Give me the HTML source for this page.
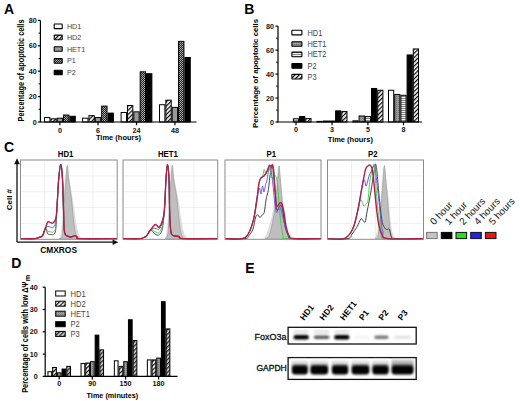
<!DOCTYPE html>
<html><head><meta charset="utf-8"><style>
html,body{margin:0;padding:0;background:#fff;width:520px;height:401px;overflow:hidden}
svg{display:block}
</style></head><body>
<svg width="520" height="401" viewBox="0 0 520 401" font-family="Liberation Sans">
<defs>
<pattern id="hatch" patternUnits="userSpaceOnUse" width="3" height="3" patternTransform="rotate(45)">
  <rect width="3" height="3" fill="#fff"/><rect width="1.2" height="3" fill="#000"/></pattern>
<pattern id="hatchG" patternUnits="userSpaceOnUse" width="3" height="3" patternTransform="rotate(45)">
  <rect width="3" height="3" fill="#ddd"/><rect width="1.4" height="3" fill="#222"/></pattern>
<pattern id="checker" patternUnits="userSpaceOnUse" width="2" height="2">
  <rect width="2" height="2" fill="#1c1c1c"/><rect width="1" height="1" fill="#b8b8b8"/><rect x="1" y="1" width="1" height="1" fill="#a0a0a0"/></pattern>
<pattern id="dotG" patternUnits="userSpaceOnUse" width="2" height="2">
  <rect width="2" height="2" fill="#999"/><rect width="1" height="1" fill="#777"/></pattern>
<pattern id="hstripe" patternUnits="userSpaceOnUse" width="2" height="2">
  <rect width="2" height="2" fill="#eee"/><rect width="2" height="1" fill="#888"/></pattern>
</defs>
<rect width="520" height="401" fill="#fff"/>
<text x="4.1" y="14.2" font-size="14" font-weight="bold" text-anchor="start" fill="#000" >A</text>
<text x="244.2" y="13.7" font-size="14" font-weight="bold" text-anchor="start" fill="#000" >B</text>
<text x="4.0" y="151.9" font-size="14" font-weight="bold" text-anchor="start" fill="#000" >C</text>
<text x="11.3" y="267.6" font-size="14" font-weight="bold" text-anchor="start" fill="#000" >D</text>
<text x="245.2" y="272.9" font-size="14" font-weight="bold" text-anchor="start" fill="#000" >E</text>
<rect x="44.52" y="117.56" width="5.35" height="4.45" fill="#fff" stroke="#000" stroke-width="1" />
<rect x="50.88" y="118.83" width="5.35" height="3.17" fill="url(#hatch)" stroke="#000" stroke-width="1" />
<rect x="57.23" y="118.19" width="5.35" height="3.81" fill="#999" stroke="#000" stroke-width="1" />
<rect x="63.58" y="115.02" width="5.35" height="6.99" fill="url(#checker)" stroke="#000" stroke-width="1" />
<rect x="69.92" y="116.28" width="5.35" height="5.71" fill="#000" stroke="#000" stroke-width="1" />
<rect x="82.62" y="118.19" width="5.35" height="3.81" fill="#fff" stroke="#000" stroke-width="1" />
<rect x="88.97" y="115.65" width="5.35" height="6.35" fill="url(#hatch)" stroke="#000" stroke-width="1" />
<rect x="95.32" y="117.56" width="5.35" height="4.45" fill="#999" stroke="#000" stroke-width="1" />
<rect x="101.67" y="106.12" width="5.35" height="15.88" fill="url(#checker)" stroke="#000" stroke-width="1" />
<rect x="108.02" y="113.11" width="5.35" height="8.89" fill="#000" stroke="#000" stroke-width="1" />
<rect x="121.12" y="112.47" width="5.35" height="9.53" fill="#fff" stroke="#000" stroke-width="1" />
<rect x="127.47" y="105.49" width="5.35" height="16.51" fill="url(#hatch)" stroke="#000" stroke-width="1" />
<rect x="133.82" y="111.84" width="5.35" height="10.16" fill="#999" stroke="#000" stroke-width="1" />
<rect x="140.17" y="71.84" width="5.35" height="50.16" fill="url(#checker)" stroke="#000" stroke-width="1" />
<rect x="146.52" y="73.74" width="5.35" height="48.26" fill="#000" stroke="#000" stroke-width="1" />
<rect x="159.53" y="104.73" width="5.35" height="17.27" fill="#fff" stroke="#000" stroke-width="1" />
<rect x="165.88" y="100.16" width="5.35" height="21.84" fill="url(#hatch)" stroke="#000" stroke-width="1" />
<rect x="172.22" y="107.39" width="5.35" height="14.61" fill="#999" stroke="#000" stroke-width="1" />
<rect x="178.57" y="41.36" width="5.35" height="80.64" fill="url(#checker)" stroke="#000" stroke-width="1" />
<rect x="184.92" y="57.48" width="5.35" height="64.52" fill="#000" stroke="#000" stroke-width="1" />
<line x1="40.4" y1="20.4" x2="40.4" y2="122" stroke="#000" stroke-width="1.2" />
<line x1="37.9" y1="122.0" x2="40.4" y2="122.0" stroke="#000" stroke-width="1.2" />
<text x="36.8" y="124.5" font-size="7.2" font-weight="bold" text-anchor="end" fill="#111" >0</text>
<line x1="37.9" y1="96.6" x2="40.4" y2="96.6" stroke="#000" stroke-width="1.2" />
<text x="36.8" y="99.1" font-size="7.2" font-weight="bold" text-anchor="end" fill="#111" >20</text>
<line x1="37.9" y1="71.2" x2="40.4" y2="71.2" stroke="#000" stroke-width="1.2" />
<text x="36.8" y="73.7" font-size="7.2" font-weight="bold" text-anchor="end" fill="#111" >40</text>
<line x1="37.9" y1="45.8" x2="40.4" y2="45.8" stroke="#000" stroke-width="1.2" />
<text x="36.8" y="48.3" font-size="7.2" font-weight="bold" text-anchor="end" fill="#111" >60</text>
<line x1="37.9" y1="20.400000000000006" x2="40.4" y2="20.400000000000006" stroke="#000" stroke-width="1.2" />
<text x="36.8" y="22.900000000000006" font-size="7.2" font-weight="bold" text-anchor="end" fill="#111" >80</text>
<line x1="38.6" y1="109.3" x2="40.4" y2="109.3" stroke="#000" stroke-width="1" />
<line x1="38.6" y1="83.9" x2="40.4" y2="83.9" stroke="#000" stroke-width="1" />
<line x1="38.6" y1="58.5" x2="40.4" y2="58.5" stroke="#000" stroke-width="1" />
<line x1="38.6" y1="33.099999999999994" x2="40.4" y2="33.099999999999994" stroke="#000" stroke-width="1" />
<line x1="39.8" y1="122" x2="196.5" y2="122" stroke="#000" stroke-width="1.2" />
<line x1="59.9" y1="122" x2="59.9" y2="125.2" stroke="#000" stroke-width="1.2" />
<text x="59.9" y="133.2" font-size="7.2" font-weight="bold" text-anchor="middle" fill="#111" >0</text>
<line x1="98" y1="122" x2="98" y2="125.2" stroke="#000" stroke-width="1.2" />
<text x="98" y="133.2" font-size="7.2" font-weight="bold" text-anchor="middle" fill="#111" >6</text>
<line x1="136.5" y1="122" x2="136.5" y2="125.2" stroke="#000" stroke-width="1.2" />
<text x="136.5" y="133.2" font-size="7.2" font-weight="bold" text-anchor="middle" fill="#111" >24</text>
<line x1="174.9" y1="122" x2="174.9" y2="125.2" stroke="#000" stroke-width="1.2" />
<text x="174.9" y="133.2" font-size="7.2" font-weight="bold" text-anchor="middle" fill="#111" >48</text>
<text transform="translate(118.50,140.30) scale(0.962,1)" font-size="7.8" font-weight="bold" text-anchor="middle" fill="#000" >Time (hours)</text>
<text transform="translate(23.7,70.5) rotate(-90)" font-size="8.4" font-weight="bold" text-anchor="middle" textLength="102" lengthAdjust="spacingAndGlyphs">Percentage of apoptotic cells</text>
<rect x="54.2" y="24.0" width="8" height="4.6" fill="#fff" stroke="#000" stroke-width="1.1" rx="0.4"/>
<text transform="translate(66.90,28.80) scale(0.92,1)" font-size="7.8" font-weight="normal" text-anchor="start" fill="#444" >HD1</text>
<rect x="54.2" y="35.1" width="8" height="4.6" fill="url(#hatch)" stroke="#000" stroke-width="1.1" rx="0.4"/>
<text transform="translate(66.90,39.90) scale(0.92,1)" font-size="7.8" font-weight="normal" text-anchor="start" fill="#444" >HD2</text>
<rect x="54.2" y="46.7" width="8" height="4.6" fill="#999" stroke="#000" stroke-width="1.1" rx="0.4"/>
<text transform="translate(66.90,51.50) scale(0.92,1)" font-size="7.8" font-weight="normal" text-anchor="start" fill="#444" >HET1</text>
<rect x="54.2" y="58.6" width="8" height="4.6" fill="url(#checker)" stroke="#000" stroke-width="1.1" rx="0.4"/>
<text transform="translate(66.90,63.40) scale(0.92,1)" font-size="7.8" font-weight="normal" text-anchor="start" fill="#444" >P1</text>
<rect x="54.2" y="70.2" width="8" height="4.6" fill="#000" stroke="#000" stroke-width="1.1" rx="0.4"/>
<text transform="translate(66.90,75.00) scale(0.92,1)" font-size="7.8" font-weight="normal" text-anchor="start" fill="#444" >P2</text>
<rect x="293.4" y="118.77" width="5.2" height="3.23" fill="url(#hstripe)" stroke="#000" stroke-width="1" />
<rect x="299.6" y="116.49" width="5.2" height="5.51" fill="#000" stroke="#000" stroke-width="1" />
<rect x="305.8" y="118.53" width="5.2" height="3.47" fill="url(#hatch)" stroke="#000" stroke-width="1" />
<rect x="317.0" y="121.4" width="5.2" height="0.6" fill="#fff" stroke="#000" stroke-width="1" />
<rect x="323.2" y="121.04" width="5.2" height="0.96" fill="url(#dotG)" stroke="#000" stroke-width="1" />
<rect x="329.4" y="121.04" width="5.2" height="0.96" fill="url(#hstripe)" stroke="#000" stroke-width="1" />
<rect x="335.6" y="110.86" width="5.2" height="11.14" fill="#000" stroke="#000" stroke-width="1" />
<rect x="341.8" y="111.58" width="5.2" height="10.42" fill="url(#hatch)" stroke="#000" stroke-width="1" />
<rect x="352.9" y="120.8" width="5.2" height="1.2" fill="#fff" stroke="#000" stroke-width="1" />
<rect x="359.1" y="116.01" width="5.2" height="5.99" fill="url(#dotG)" stroke="#000" stroke-width="1" />
<rect x="365.3" y="116.61" width="5.2" height="5.39" fill="url(#hstripe)" stroke="#000" stroke-width="1" />
<rect x="371.5" y="88.47" width="5.2" height="33.53" fill="#000" stroke="#000" stroke-width="1" />
<rect x="377.7" y="90.27" width="5.2" height="31.73" fill="url(#hatch)" stroke="#000" stroke-width="1" />
<rect x="388.5" y="90.27" width="5.2" height="31.73" fill="#fff" stroke="#000" stroke-width="1" />
<rect x="394.7" y="94.46" width="5.2" height="27.54" fill="url(#dotG)" stroke="#000" stroke-width="1" />
<rect x="400.9" y="95.3" width="5.2" height="26.7" fill="url(#hstripe)" stroke="#000" stroke-width="1" />
<rect x="407.1" y="54.94" width="5.2" height="67.06" fill="#000" stroke="#000" stroke-width="1" />
<rect x="413.3" y="48.95" width="5.2" height="73.05" fill="url(#hatch)" stroke="#000" stroke-width="1" />
<line x1="278" y1="26.2" x2="278" y2="122" stroke="#000" stroke-width="1.2" />
<line x1="275.5" y1="122.0" x2="278" y2="122.0" stroke="#000" stroke-width="1.2" />
<text x="274.1" y="124.5" font-size="7.2" font-weight="bold" text-anchor="end" fill="#111" >0</text>
<line x1="275.5" y1="98.05" x2="278" y2="98.05" stroke="#000" stroke-width="1.2" />
<text x="274.1" y="100.55" font-size="7.2" font-weight="bold" text-anchor="end" fill="#111" >20</text>
<line x1="275.5" y1="74.1" x2="278" y2="74.1" stroke="#000" stroke-width="1.2" />
<text x="274.1" y="76.6" font-size="7.2" font-weight="bold" text-anchor="end" fill="#111" >40</text>
<line x1="275.5" y1="50.150000000000006" x2="278" y2="50.150000000000006" stroke="#000" stroke-width="1.2" />
<text x="274.1" y="52.650000000000006" font-size="7.2" font-weight="bold" text-anchor="end" fill="#111" >60</text>
<line x1="275.5" y1="26.200000000000003" x2="278" y2="26.200000000000003" stroke="#000" stroke-width="1.2" />
<text x="274.1" y="28.700000000000003" font-size="7.2" font-weight="bold" text-anchor="end" fill="#111" >80</text>
<line x1="276.2" y1="110.025" x2="278" y2="110.025" stroke="#000" stroke-width="1" />
<line x1="276.2" y1="86.075" x2="278" y2="86.075" stroke="#000" stroke-width="1" />
<line x1="276.2" y1="62.125" x2="278" y2="62.125" stroke="#000" stroke-width="1" />
<line x1="276.2" y1="38.175" x2="278" y2="38.175" stroke="#000" stroke-width="1" />
<line x1="277.4" y1="122" x2="422" y2="122" stroke="#000" stroke-width="1.2" />
<line x1="296" y1="122" x2="296" y2="125.2" stroke="#000" stroke-width="1.2" />
<text x="296" y="132.1" font-size="7.2" font-weight="bold" text-anchor="middle" fill="#111" >0</text>
<line x1="332" y1="122" x2="332" y2="125.2" stroke="#000" stroke-width="1.2" />
<text x="332" y="132.1" font-size="7.2" font-weight="bold" text-anchor="middle" fill="#111" >3</text>
<line x1="367.9" y1="122" x2="367.9" y2="125.2" stroke="#000" stroke-width="1.2" />
<text x="367.9" y="132.1" font-size="7.2" font-weight="bold" text-anchor="middle" fill="#111" >5</text>
<line x1="403.5" y1="122" x2="403.5" y2="125.2" stroke="#000" stroke-width="1.2" />
<text x="403.5" y="132.1" font-size="7.2" font-weight="bold" text-anchor="middle" fill="#111" >8</text>
<text transform="translate(350.30,142.30) scale(0.962,1)" font-size="7.8" font-weight="bold" text-anchor="middle" fill="#000" >Time (hours)</text>
<text transform="translate(258.4,73.4) rotate(-90)" font-size="8.1" font-weight="bold" text-anchor="middle" textLength="109" lengthAdjust="spacingAndGlyphs">Percentage of apoptotic cells</text>
<rect x="291.9" y="30.3" width="10" height="4.6" fill="#fff" stroke="#000" stroke-width="1.1" rx="0.4"/>
<text transform="translate(307.50,35.50) scale(0.9,1)" font-size="8.2" font-weight="normal" text-anchor="start" fill="#444" >HD1</text>
<rect x="291.9" y="41.7" width="10" height="4.6" fill="url(#dotG)" stroke="#000" stroke-width="1.1" rx="0.4"/>
<text transform="translate(307.50,46.90) scale(0.9,1)" font-size="8.2" font-weight="normal" text-anchor="start" fill="#444" >HET1</text>
<rect x="291.9" y="52.1" width="10" height="4.6" fill="url(#hstripe)" stroke="#000" stroke-width="1.1" rx="0.4"/>
<text transform="translate(307.50,57.30) scale(0.9,1)" font-size="8.2" font-weight="normal" text-anchor="start" fill="#444" >HET2</text>
<rect x="291.9" y="63.60000000000001" width="10" height="4.6" fill="#000" stroke="#000" stroke-width="1.1" rx="0.4"/>
<text transform="translate(307.50,68.80) scale(0.9,1)" font-size="8.2" font-weight="normal" text-anchor="start" fill="#444" >P2</text>
<rect x="291.9" y="74.4" width="10" height="4.6" fill="url(#hatch)" stroke="#000" stroke-width="1.1" rx="0.4"/>
<text transform="translate(307.50,79.60) scale(0.9,1)" font-size="8.2" font-weight="normal" text-anchor="start" fill="#444" >P3</text>
<rect x="47.95" y="371.72" width="3.7" height="4.68" fill="#fff" stroke="#000" stroke-width="1" />
<rect x="52.65" y="367.48" width="3.7" height="8.92" fill="url(#hatch)" stroke="#000" stroke-width="1" />
<rect x="57.35" y="372.83" width="3.7" height="3.57" fill="url(#dotG)" stroke="#000" stroke-width="1" />
<rect x="62.05" y="369.04" width="3.7" height="7.36" fill="#000" stroke="#000" stroke-width="1" />
<rect x="66.75" y="366.36" width="3.7" height="10.03" fill="url(#hatchG)" stroke="#000" stroke-width="1" />
<rect x="81.05" y="363.47" width="3.7" height="12.93" fill="#fff" stroke="#000" stroke-width="1" />
<rect x="85.75" y="363.02" width="3.7" height="13.38" fill="url(#hatch)" stroke="#000" stroke-width="1" />
<rect x="90.45" y="361.68" width="3.7" height="14.72" fill="url(#dotG)" stroke="#000" stroke-width="1" />
<rect x="95.15" y="335.14" width="3.7" height="41.25" fill="#000" stroke="#000" stroke-width="1" />
<rect x="99.85" y="349.86" width="3.7" height="26.54" fill="url(#hatchG)" stroke="#000" stroke-width="1" />
<rect x="114.35" y="360.79" width="3.7" height="15.61" fill="#fff" stroke="#000" stroke-width="1" />
<rect x="119.05" y="366.36" width="3.7" height="10.03" fill="url(#hatch)" stroke="#000" stroke-width="1" />
<rect x="123.75" y="361.68" width="3.7" height="14.72" fill="url(#dotG)" stroke="#000" stroke-width="1" />
<rect x="128.45" y="319.76" width="3.7" height="56.64" fill="#000" stroke="#000" stroke-width="1" />
<rect x="133.15" y="340.5" width="3.7" height="35.9" fill="url(#hatchG)" stroke="#000" stroke-width="1" />
<rect x="147.35" y="359.9" width="3.7" height="16.5" fill="#fff" stroke="#000" stroke-width="1" />
<rect x="152.05" y="359.9" width="3.7" height="16.5" fill="url(#hatch)" stroke="#000" stroke-width="1" />
<rect x="156.75" y="358.11" width="3.7" height="18.29" fill="url(#dotG)" stroke="#000" stroke-width="1" />
<rect x="161.45" y="301.69" width="3.7" height="74.7" fill="#000" stroke="#000" stroke-width="1" />
<rect x="166.15" y="328.9" width="3.7" height="47.5" fill="url(#hatchG)" stroke="#000" stroke-width="1" />
<line x1="45.2" y1="287.2" x2="45.2" y2="376.4" stroke="#000" stroke-width="1.2" />
<line x1="42.7" y1="376.4" x2="45.2" y2="376.4" stroke="#000" stroke-width="1.2" />
<text x="37.7" y="378.9" font-size="7.2" font-weight="bold" text-anchor="end" fill="#111" >0</text>
<line x1="42.7" y1="354.09999999999997" x2="45.2" y2="354.09999999999997" stroke="#000" stroke-width="1.2" />
<text x="37.7" y="356.59999999999997" font-size="7.2" font-weight="bold" text-anchor="end" fill="#111" >10</text>
<line x1="42.7" y1="331.79999999999995" x2="45.2" y2="331.79999999999995" stroke="#000" stroke-width="1.2" />
<text x="37.7" y="334.29999999999995" font-size="7.2" font-weight="bold" text-anchor="end" fill="#111" >20</text>
<line x1="42.7" y1="309.5" x2="45.2" y2="309.5" stroke="#000" stroke-width="1.2" />
<text x="37.7" y="312.0" font-size="7.2" font-weight="bold" text-anchor="end" fill="#111" >30</text>
<line x1="42.7" y1="287.2" x2="45.2" y2="287.2" stroke="#000" stroke-width="1.2" />
<text x="37.7" y="289.7" font-size="7.2" font-weight="bold" text-anchor="end" fill="#111" >40</text>
<line x1="44.6" y1="376.4" x2="177.6" y2="376.4" stroke="#000" stroke-width="1.2" />
<line x1="59.2" y1="376.4" x2="59.2" y2="379.59999999999997" stroke="#000" stroke-width="1.2" />
<text x="59.2" y="386" font-size="7.2" font-weight="bold" text-anchor="middle" fill="#111" >0</text>
<line x1="92.3" y1="376.4" x2="92.3" y2="379.59999999999997" stroke="#000" stroke-width="1.2" />
<text x="92.3" y="386" font-size="7.2" font-weight="bold" text-anchor="middle" fill="#111" >90</text>
<line x1="125.6" y1="376.4" x2="125.6" y2="379.59999999999997" stroke="#000" stroke-width="1.2" />
<text x="125.6" y="386" font-size="7.2" font-weight="bold" text-anchor="middle" fill="#111" >150</text>
<line x1="158.6" y1="376.4" x2="158.6" y2="379.59999999999997" stroke="#000" stroke-width="1.2" />
<text x="158.6" y="386" font-size="7.2" font-weight="bold" text-anchor="middle" fill="#111" >180</text>
<text transform="translate(112.40,397.90) scale(0.925,1)" font-size="7.9" font-weight="bold" text-anchor="middle" fill="#000" >Time (minutes)</text>
<text transform="translate(27.9,337.2) rotate(-90)" font-size="8.4" font-weight="bold" text-anchor="middle" textLength="111.2" lengthAdjust="spacingAndGlyphs">Percentage of cells with low ΔΨ</text>
<text transform="translate(30.3,281.2) rotate(-90)" font-size="7.2" font-weight="bold">m</text>
<rect x="55.7" y="291.0" width="9.5" height="5" fill="#fff" stroke="#000" stroke-width="1" />
<text transform="translate(70.60,296.50) scale(0.92,1)" font-size="8.2" font-weight="normal" text-anchor="start" fill="#444" >HD1</text>
<rect x="55.7" y="301.2" width="9.5" height="5" fill="url(#hatch)" stroke="#000" stroke-width="1" />
<text transform="translate(70.60,306.70) scale(0.92,1)" font-size="8.2" font-weight="normal" text-anchor="start" fill="#444" >HD2</text>
<rect x="55.7" y="311.2" width="9.5" height="5" fill="url(#dotG)" stroke="#000" stroke-width="1" />
<text transform="translate(70.60,316.70) scale(0.92,1)" font-size="8.2" font-weight="normal" text-anchor="start" fill="#444" >HET1</text>
<rect x="55.7" y="321.7" width="9.5" height="5" fill="#000" stroke="#000" stroke-width="1" />
<text transform="translate(70.60,327.20) scale(0.92,1)" font-size="8.2" font-weight="normal" text-anchor="start" fill="#444" >P2</text>
<rect x="55.7" y="331.4" width="9.5" height="5" fill="url(#hatchG)" stroke="#000" stroke-width="1" />
<text transform="translate(70.60,336.90) scale(0.92,1)" font-size="8.2" font-weight="normal" text-anchor="start" fill="#444" >P3</text>
<rect x="20.5" y="160" width="96.7" height="79.30000000000001" fill="#fff" stroke="#8a8a8a" stroke-width="1" />
<line x1="44.675" y1="161" x2="44.675" y2="238.3" stroke="#eaeaea" stroke-width="0.7" />
<line x1="68.85" y1="161" x2="68.85" y2="238.3" stroke="#eaeaea" stroke-width="0.7" />
<line x1="93.025" y1="161" x2="93.025" y2="238.3" stroke="#eaeaea" stroke-width="0.7" />
<line x1="21.5" y1="175.86" x2="116.2" y2="175.86" stroke="#eaeaea" stroke-width="0.7" />
<line x1="21.5" y1="191.72" x2="116.2" y2="191.72" stroke="#eaeaea" stroke-width="0.7" />
<line x1="21.5" y1="207.58" x2="116.2" y2="207.58" stroke="#eaeaea" stroke-width="0.7" />
<line x1="21.5" y1="223.44" x2="116.2" y2="223.44" stroke="#eaeaea" stroke-width="0.7" />
<text transform="translate(65.60,157.30) scale(0.9,1)" font-size="8.7" font-weight="bold" text-anchor="middle" fill="#000" >HD1</text>
<rect x="123" y="160" width="94.69999999999999" height="79.30000000000001" fill="#fff" stroke="#8a8a8a" stroke-width="1" />
<line x1="146.675" y1="161" x2="146.675" y2="238.3" stroke="#eaeaea" stroke-width="0.7" />
<line x1="170.35" y1="161" x2="170.35" y2="238.3" stroke="#eaeaea" stroke-width="0.7" />
<line x1="194.02499999999998" y1="161" x2="194.02499999999998" y2="238.3" stroke="#eaeaea" stroke-width="0.7" />
<line x1="124" y1="175.86" x2="216.7" y2="175.86" stroke="#eaeaea" stroke-width="0.7" />
<line x1="124" y1="191.72" x2="216.7" y2="191.72" stroke="#eaeaea" stroke-width="0.7" />
<line x1="124" y1="207.58" x2="216.7" y2="207.58" stroke="#eaeaea" stroke-width="0.7" />
<line x1="124" y1="223.44" x2="216.7" y2="223.44" stroke="#eaeaea" stroke-width="0.7" />
<text transform="translate(167.90,157.30) scale(0.9,1)" font-size="8.7" font-weight="bold" text-anchor="middle" fill="#000" >HET1</text>
<rect x="225" y="160" width="96" height="79.30000000000001" fill="#fff" stroke="#8a8a8a" stroke-width="1" />
<line x1="249.0" y1="161" x2="249.0" y2="238.3" stroke="#eaeaea" stroke-width="0.7" />
<line x1="273.0" y1="161" x2="273.0" y2="238.3" stroke="#eaeaea" stroke-width="0.7" />
<line x1="297.0" y1="161" x2="297.0" y2="238.3" stroke="#eaeaea" stroke-width="0.7" />
<line x1="226" y1="175.86" x2="320" y2="175.86" stroke="#eaeaea" stroke-width="0.7" />
<line x1="226" y1="191.72" x2="320" y2="191.72" stroke="#eaeaea" stroke-width="0.7" />
<line x1="226" y1="207.58" x2="320" y2="207.58" stroke="#eaeaea" stroke-width="0.7" />
<line x1="226" y1="223.44" x2="320" y2="223.44" stroke="#eaeaea" stroke-width="0.7" />
<text transform="translate(271.40,157.30) scale(0.9,1)" font-size="8.7" font-weight="bold" text-anchor="middle" fill="#000" >P1</text>
<rect x="327.5" y="160" width="96.0" height="79.30000000000001" fill="#fff" stroke="#8a8a8a" stroke-width="1" />
<line x1="351.5" y1="161" x2="351.5" y2="238.3" stroke="#eaeaea" stroke-width="0.7" />
<line x1="375.5" y1="161" x2="375.5" y2="238.3" stroke="#eaeaea" stroke-width="0.7" />
<line x1="399.5" y1="161" x2="399.5" y2="238.3" stroke="#eaeaea" stroke-width="0.7" />
<line x1="328.5" y1="175.86" x2="422.5" y2="175.86" stroke="#eaeaea" stroke-width="0.7" />
<line x1="328.5" y1="191.72" x2="422.5" y2="191.72" stroke="#eaeaea" stroke-width="0.7" />
<line x1="328.5" y1="207.58" x2="422.5" y2="207.58" stroke="#eaeaea" stroke-width="0.7" />
<line x1="328.5" y1="223.44" x2="422.5" y2="223.44" stroke="#eaeaea" stroke-width="0.7" />
<text transform="translate(372.70,157.30) scale(0.9,1)" font-size="8.7" font-weight="bold" text-anchor="middle" fill="#000" >P2</text>
<path d="M56.09,238.60 C56.77,238.25 59.13,239.60 60.15,236.50 C61.16,233.40 61.61,226.08 62.17,220.00 C62.73,213.92 62.96,207.00 63.52,200.00 C64.08,193.00 64.92,183.78 65.55,178.00 C66.17,172.22 66.72,165.30 67.30,165.30 C67.88,165.30 68.11,172.22 69.05,178.00 C70.00,183.78 71.87,193.00 72.97,200.00 C74.07,207.00 74.77,214.50 75.67,220.00 C76.57,225.50 77.36,229.90 78.37,233.00 C79.38,236.10 81.18,237.67 81.75,238.60 Z" fill="#dcdcdc" stroke="none"/>
<path d="M59.00,238.60 C59.50,238.25 61.25,239.60 62.00,236.50 C62.75,233.40 63.08,226.08 63.50,220.00 C63.92,213.92 64.08,207.00 64.50,200.00 C64.92,193.00 65.53,183.78 66.00,178.00 C66.47,172.22 66.87,165.30 67.30,165.30 C67.73,165.30 67.90,172.22 68.60,178.00 C69.30,183.78 70.68,193.00 71.50,200.00 C72.32,207.00 72.83,214.50 73.50,220.00 C74.17,225.50 74.75,229.90 75.50,233.00 C76.25,236.10 77.58,237.67 78.00,238.60 Z" fill="#bebebe" stroke="#a2a2a2" stroke-width="0.8"/>
<path d="M21.00,238.60 C23.33,238.60 31.83,238.87 35.00,238.60 C38.17,238.33 38.73,237.50 40.00,237.00 C41.27,236.50 41.68,237.10 42.60,235.60 C43.52,234.10 44.63,228.30 45.50,228.00 C46.37,227.70 46.97,232.73 47.80,233.80 C48.63,234.87 49.63,234.28 50.50,234.40 C51.37,234.52 52.15,235.15 53.00,234.50 C53.85,233.85 54.97,234.52 55.60,230.50 C56.23,226.48 56.28,218.98 56.80,210.40 C57.32,201.82 58.03,186.68 58.70,179.00 C59.37,171.32 60.17,164.30 60.80,164.30 C61.43,164.30 62.05,171.38 62.50,179.00 C62.95,186.62 63.15,201.10 63.50,210.00 C63.85,218.90 63.72,227.97 64.60,232.40 C65.48,236.83 67.57,235.87 68.80,236.60 C70.03,237.33 70.97,236.97 72.00,236.80 C73.03,236.63 74.08,235.52 75.00,235.60 C75.92,235.68 76.62,236.80 77.50,237.30 C78.38,237.80 73.80,238.38 80.30,238.60 C86.80,238.82 110.47,238.60 116.50,238.60" fill="none" stroke="#333" stroke-width="0.9" stroke-linejoin="round"/>
<path d="M21.00,238.60 C23.33,238.60 31.83,238.87 35.00,238.60 C38.17,238.33 38.73,237.50 40.00,237.00 C41.27,236.50 41.68,237.10 42.60,235.60 C43.52,234.10 44.63,228.73 45.50,228.00 C46.37,227.27 46.97,230.57 47.80,231.20 C48.63,231.83 49.63,231.67 50.50,231.80 C51.37,231.93 52.15,232.63 53.00,232.00 C53.85,231.37 54.97,231.60 55.60,228.00 C56.23,224.40 56.28,218.57 56.80,210.40 C57.32,202.23 58.03,186.68 58.70,179.00 C59.37,171.32 60.17,164.30 60.80,164.30 C61.43,164.30 62.05,171.38 62.50,179.00 C62.95,186.62 63.15,201.10 63.50,210.00 C63.85,218.90 63.72,227.97 64.60,232.40 C65.48,236.83 67.57,235.87 68.80,236.60 C70.03,237.33 70.97,236.97 72.00,236.80 C73.03,236.63 74.08,235.52 75.00,235.60 C75.92,235.68 76.62,236.80 77.50,237.30 C78.38,237.80 73.80,238.38 80.30,238.60 C86.80,238.82 110.47,238.60 116.50,238.60" fill="none" stroke="#3ccc3c" stroke-width="0.9" stroke-linejoin="round"/>
<path d="M21.00,238.60 C23.33,238.60 31.83,238.87 35.00,238.60 C38.17,238.33 38.73,237.50 40.00,237.00 C41.27,236.50 41.68,237.10 42.60,235.60 C43.52,234.10 44.63,229.52 45.50,228.00 C46.37,226.48 46.97,226.65 47.80,226.50 C48.63,226.35 49.63,226.93 50.50,227.10 C51.37,227.27 52.15,228.10 53.00,227.50 C53.85,226.90 54.97,226.35 55.60,223.50 C56.23,220.65 56.28,217.82 56.80,210.40 C57.32,202.98 58.03,186.68 58.70,179.00 C59.37,171.32 60.17,164.30 60.80,164.30 C61.43,164.30 62.05,171.38 62.50,179.00 C62.95,186.62 63.15,201.10 63.50,210.00 C63.85,218.90 63.72,227.97 64.60,232.40 C65.48,236.83 67.57,235.87 68.80,236.60 C70.03,237.33 70.97,236.97 72.00,236.80 C73.03,236.63 74.08,235.52 75.00,235.60 C75.92,235.68 76.62,236.80 77.50,237.30 C78.38,237.80 73.80,238.38 80.30,238.60 C86.80,238.82 110.47,238.60 116.50,238.60" fill="none" stroke="#5a4ee0" stroke-width="0.9" stroke-linejoin="round"/>
<path d="M21.00,238.60 C23.33,238.60 31.83,238.87 35.00,238.60 C38.17,238.33 38.73,237.50 40.00,237.00 C41.27,236.50 41.68,237.10 42.60,235.60 C43.52,234.10 44.63,230.27 45.50,228.00 C46.37,225.73 46.97,222.90 47.80,222.00 C48.63,221.10 49.63,222.43 50.50,222.60 C51.37,222.77 52.15,223.60 53.00,223.00 C53.85,222.40 54.97,221.10 55.60,219.00 C56.23,216.90 56.28,217.07 56.80,210.40 C57.32,203.73 58.03,186.68 58.70,179.00 C59.37,171.32 60.17,164.30 60.80,164.30 C61.43,164.30 62.05,171.38 62.50,179.00 C62.95,186.62 63.15,201.10 63.50,210.00 C63.85,218.90 63.72,227.97 64.60,232.40 C65.48,236.83 67.57,235.87 68.80,236.60 C70.03,237.33 70.97,236.97 72.00,236.80 C73.03,236.63 74.08,235.52 75.00,235.60 C75.92,235.68 76.62,236.80 77.50,237.30 C78.38,237.80 73.80,238.38 80.30,238.60 C86.80,238.82 110.47,238.60 116.50,238.60" fill="none" stroke="#b31f42" stroke-width="1.4" stroke-linejoin="round"/>
<path d="M162.41,238.60 C162.97,238.17 164.88,239.10 165.78,236.00 C166.69,232.90 167.29,226.00 167.81,220.00 C168.33,214.00 168.37,207.00 168.89,200.00 C169.41,193.00 170.33,183.83 170.92,178.00 C171.50,172.17 171.88,165.00 172.40,165.00 C172.92,165.00 172.98,172.17 174.02,178.00 C175.05,183.83 177.39,193.00 178.61,200.00 C179.82,207.00 180.41,214.50 181.31,220.00 C182.21,225.50 182.88,229.90 184.01,233.00 C185.13,236.10 187.38,237.67 188.06,238.60 Z" fill="#dcdcdc" stroke="none"/>
<path d="M165.00,238.60 C165.42,238.17 166.83,239.10 167.50,236.00 C168.17,232.90 168.62,226.00 169.00,220.00 C169.38,214.00 169.42,207.00 169.80,200.00 C170.18,193.00 170.87,183.83 171.30,178.00 C171.73,172.17 172.02,165.00 172.40,165.00 C172.78,165.00 172.83,172.17 173.60,178.00 C174.37,183.83 176.10,193.00 177.00,200.00 C177.90,207.00 178.33,214.50 179.00,220.00 C179.67,225.50 180.17,229.90 181.00,233.00 C181.83,236.10 183.50,237.67 184.00,238.60 Z" fill="#bebebe" stroke="#a2a2a2" stroke-width="0.8"/>
<path d="M123.50,238.60 C126.25,238.60 136.58,238.82 140.00,238.60 C143.42,238.38 142.92,237.73 144.00,237.30 C145.08,236.87 145.42,237.22 146.50,236.00 C147.58,234.78 149.10,230.33 150.50,230.00 C151.90,229.67 153.82,233.17 154.90,234.00 C155.98,234.83 156.30,234.87 157.00,235.00 C157.70,235.13 158.22,235.83 159.10,234.80 C159.98,233.77 161.42,232.93 162.30,228.80 C163.18,224.67 163.78,218.30 164.40,210.00 C165.02,201.70 165.48,186.55 166.00,179.00 C166.52,171.45 167.00,164.70 167.50,164.70 C168.00,164.70 168.65,171.45 169.00,179.00 C169.35,186.55 169.35,201.83 169.60,210.00 C169.85,218.17 170.15,223.92 170.50,228.00 C170.85,232.08 170.95,233.17 171.70,234.50 C172.45,235.83 173.78,235.67 175.00,236.00 C176.22,236.33 177.63,236.07 179.00,236.50 C180.37,236.93 176.87,238.25 183.20,238.60 C189.53,238.95 211.37,238.60 217.00,238.60" fill="none" stroke="#333" stroke-width="0.9" stroke-linejoin="round"/>
<path d="M123.50,238.60 C126.25,238.60 136.58,238.82 140.00,238.60 C143.42,238.38 142.92,237.73 144.00,237.30 C145.08,236.87 145.42,237.22 146.50,236.00 C147.58,234.78 149.10,230.75 150.50,230.00 C151.90,229.25 153.82,231.08 154.90,231.50 C155.98,231.92 156.30,232.33 157.00,232.50 C157.70,232.67 158.22,233.50 159.10,232.50 C159.98,231.50 161.42,230.25 162.30,226.50 C163.18,222.75 163.78,217.92 164.40,210.00 C165.02,202.08 165.48,186.55 166.00,179.00 C166.52,171.45 167.00,164.70 167.50,164.70 C168.00,164.70 168.65,171.45 169.00,179.00 C169.35,186.55 169.35,201.83 169.60,210.00 C169.85,218.17 170.15,223.92 170.50,228.00 C170.85,232.08 170.95,233.17 171.70,234.50 C172.45,235.83 173.78,235.67 175.00,236.00 C176.22,236.33 177.63,236.07 179.00,236.50 C180.37,236.93 176.87,238.25 183.20,238.60 C189.53,238.95 211.37,238.60 217.00,238.60" fill="none" stroke="#3ccc3c" stroke-width="0.9" stroke-linejoin="round"/>
<path d="M123.50,238.60 C126.25,238.60 136.58,238.82 140.00,238.60 C143.42,238.38 142.92,237.73 144.00,237.30 C145.08,236.87 145.42,237.22 146.50,236.00 C147.58,234.78 149.10,231.30 150.50,230.00 C151.90,228.70 153.82,228.33 154.90,228.20 C155.98,228.07 156.30,229.07 157.00,229.20 C157.70,229.33 158.22,230.03 159.10,229.00 C159.98,227.97 161.42,226.17 162.30,223.00 C163.18,219.83 163.78,217.33 164.40,210.00 C165.02,202.67 165.48,186.55 166.00,179.00 C166.52,171.45 167.00,164.70 167.50,164.70 C168.00,164.70 168.65,171.45 169.00,179.00 C169.35,186.55 169.35,201.83 169.60,210.00 C169.85,218.17 170.15,223.92 170.50,228.00 C170.85,232.08 170.95,233.17 171.70,234.50 C172.45,235.83 173.78,235.67 175.00,236.00 C176.22,236.33 177.63,236.07 179.00,236.50 C180.37,236.93 176.87,238.25 183.20,238.60 C189.53,238.95 211.37,238.60 217.00,238.60" fill="none" stroke="#5a4ee0" stroke-width="0.9" stroke-linejoin="round"/>
<path d="M123.50,238.60 C126.25,238.60 136.58,238.82 140.00,238.60 C143.42,238.38 142.92,237.73 144.00,237.30 C145.08,236.87 145.42,237.22 146.50,236.00 C147.58,234.78 149.10,231.88 150.50,230.00 C151.90,228.12 153.82,225.42 154.90,224.70 C155.98,223.98 156.30,225.28 157.00,225.70 C157.70,226.12 158.22,227.95 159.10,227.20 C159.98,226.45 161.42,224.07 162.30,221.20 C163.18,218.33 163.78,217.03 164.40,210.00 C165.02,202.97 165.48,186.55 166.00,179.00 C166.52,171.45 167.00,164.70 167.50,164.70 C168.00,164.70 168.65,171.45 169.00,179.00 C169.35,186.55 169.35,201.83 169.60,210.00 C169.85,218.17 170.15,223.92 170.50,228.00 C170.85,232.08 170.95,233.17 171.70,234.50 C172.45,235.83 173.78,235.67 175.00,236.00 C176.22,236.33 177.63,236.07 179.00,236.50 C180.37,236.93 176.87,238.25 183.20,238.60 C189.53,238.95 211.37,238.60 217.00,238.60" fill="none" stroke="#b31f42" stroke-width="1.4" stroke-linejoin="round"/>
<path d="M260.10,238.60 C261.00,238.17 263.70,239.10 265.50,236.00 C267.30,232.90 269.32,226.00 270.90,220.00 C272.47,214.00 273.87,207.00 274.95,200.00 C276.03,193.00 276.70,183.67 277.38,178.00 C278.06,172.33 278.46,166.00 279.00,166.00 C279.54,166.00 279.94,172.33 280.62,178.00 C281.30,183.67 282.19,193.00 283.05,200.00 C283.91,207.00 284.74,214.50 285.75,220.00 C286.76,225.50 287.77,229.90 289.12,233.00 C290.48,236.10 293.06,237.67 293.85,238.60 Z" fill="#dcdcdc" stroke="none"/>
<path d="M265.00,238.60 C265.67,238.17 267.67,239.10 269.00,236.00 C270.33,232.90 271.83,226.00 273.00,220.00 C274.17,214.00 275.20,207.00 276.00,200.00 C276.80,193.00 277.30,183.67 277.80,178.00 C278.30,172.33 278.60,166.00 279.00,166.00 C279.40,166.00 279.70,172.33 280.20,178.00 C280.70,183.67 281.37,193.00 282.00,200.00 C282.63,207.00 283.25,214.50 284.00,220.00 C284.75,225.50 285.50,229.90 286.50,233.00 C287.50,236.10 289.42,237.67 290.00,238.60 Z" fill="#bebebe" stroke="#a2a2a2" stroke-width="0.8"/>
<path d="M225.50,238.60 C228.75,238.60 241.08,239.12 245.00,238.60 C248.92,238.08 247.67,237.10 249.00,235.50 C250.33,233.90 251.87,232.13 253.00,229.00 C254.13,225.87 254.97,219.03 255.80,216.70 C256.63,214.37 257.30,214.87 258.00,215.00 C258.70,215.13 259.33,217.50 260.00,217.50 C260.67,217.50 261.30,215.83 262.00,215.00 C262.70,214.17 263.53,215.00 264.20,212.50 C264.87,210.00 265.30,203.85 266.00,200.00 C266.70,196.15 267.65,194.07 268.40,189.40 C269.15,184.73 269.80,176.02 270.50,172.00 C271.20,167.98 272.02,165.30 272.60,165.30 C273.18,165.30 273.48,166.55 274.00,172.00 C274.52,177.45 275.23,191.67 275.70,198.00 C276.17,204.33 276.25,208.33 276.80,210.00 C277.35,211.67 278.30,208.83 279.00,208.00 C279.70,207.17 280.33,204.33 281.00,205.00 C281.67,205.67 282.33,208.67 283.00,212.00 C283.67,215.33 284.17,221.25 285.00,225.00 C285.83,228.75 286.83,232.23 288.00,234.50 C289.17,236.77 286.58,237.92 292.00,238.60 C297.42,239.28 315.75,238.60 320.50,238.60" fill="none" stroke="#333" stroke-width="0.9" stroke-linejoin="round"/>
<path d="M225.50,238.60 C228.25,238.60 238.17,239.45 242.00,238.60 C245.83,237.75 246.55,236.80 248.50,233.50 C250.45,230.20 252.30,224.38 253.70,218.80 C255.10,213.22 256.02,205.93 256.90,200.00 C257.78,194.07 258.32,186.87 259.00,183.20 C259.68,179.53 260.33,179.37 261.00,178.00 C261.67,176.63 262.47,176.42 263.00,175.00 C263.53,173.58 263.70,169.67 264.20,169.50 C264.70,169.33 265.37,174.25 266.00,174.00 C266.63,173.75 267.33,168.67 268.00,168.00 C268.67,167.33 269.33,168.33 270.00,170.00 C270.67,171.67 271.05,177.00 272.00,178.00 C272.95,179.00 274.70,174.00 275.70,176.00 C276.70,178.00 277.28,183.50 278.00,190.00 C278.72,196.50 279.17,207.40 280.00,215.00 C280.83,222.60 282.00,231.67 283.00,235.60 C284.00,239.53 279.75,238.10 286.00,238.60 C292.25,239.10 314.75,238.60 320.50,238.60" fill="none" stroke="#3ccc3c" stroke-width="0.9" stroke-linejoin="round"/>
<path d="M225.50,238.60 C228.25,238.60 238.17,239.45 242.00,238.60 C245.83,237.75 246.55,236.80 248.50,233.50 C250.45,230.20 252.37,224.38 253.70,218.80 C255.03,213.22 255.78,204.30 256.50,200.00 C257.22,195.70 257.50,195.00 258.00,193.00 C258.50,191.00 259.00,187.83 259.50,188.00 C260.00,188.17 260.50,194.33 261.00,194.00 C261.50,193.67 262.00,186.33 262.50,186.00 C263.00,185.67 263.50,192.17 264.00,192.00 C264.50,191.83 265.00,187.00 265.50,185.00 C266.00,183.00 266.35,183.10 267.00,180.00 C267.65,176.90 268.73,168.07 269.40,166.40 C270.07,164.73 270.40,166.90 271.00,170.00 C271.60,173.10 272.33,179.17 273.00,185.00 C273.67,190.83 274.37,200.42 275.00,205.00 C275.63,209.58 276.13,212.33 276.80,212.50 C277.47,212.67 278.30,206.42 279.00,206.00 C279.70,205.58 280.33,208.00 281.00,210.00 C281.67,212.00 282.17,214.67 283.00,218.00 C283.83,221.33 285.00,226.92 286.00,230.00 C287.00,233.08 288.00,235.07 289.00,236.50 C290.00,237.93 286.75,238.25 292.00,238.60 C297.25,238.95 315.75,238.60 320.50,238.60" fill="none" stroke="#5a4ee0" stroke-width="0.9" stroke-linejoin="round"/>
<path d="M225.50,238.60 C228.28,238.60 238.37,239.45 242.20,238.60 C246.03,237.75 246.58,236.80 248.50,233.50 C250.42,230.20 252.30,224.38 253.70,218.80 C255.10,213.22 256.02,205.93 256.90,200.00 C257.78,194.07 258.32,186.88 259.00,183.20 C259.68,179.52 260.13,179.13 261.00,177.90 C261.87,176.67 263.13,177.02 264.20,175.80 C265.27,174.58 266.53,172.35 267.40,170.60 C268.27,168.85 268.72,166.00 269.40,165.30 C270.08,164.60 270.97,166.40 271.50,166.40 C272.03,166.40 272.18,163.20 272.60,165.30 C273.02,167.40 273.48,173.22 274.00,179.00 C274.52,184.78 275.23,195.47 275.70,200.00 C276.17,204.53 276.08,205.70 276.80,206.20 C277.52,206.70 279.13,203.37 280.00,203.00 C280.87,202.63 281.33,202.42 282.00,204.00 C282.67,205.58 283.30,208.63 284.00,212.50 C284.70,216.37 285.30,223.18 286.20,227.20 C287.10,231.22 288.00,234.70 289.40,236.60 C290.80,238.50 289.42,238.27 294.60,238.60 C299.78,238.93 316.18,238.60 320.50,238.60" fill="none" stroke="#b31f42" stroke-width="1.4" stroke-linejoin="round"/>
<path d="M371.71,238.60 C372.39,238.17 374.55,239.10 375.76,236.00 C376.97,232.90 378.19,226.00 379.00,220.00 C379.81,214.00 379.99,207.00 380.62,200.00 C381.25,193.00 382.15,183.73 382.78,178.00 C383.41,172.27 383.86,165.60 384.40,165.60 C384.94,165.60 385.30,172.27 386.02,178.00 C386.74,183.73 387.96,193.00 388.72,200.00 C389.49,207.00 389.96,214.50 390.61,220.00 C391.26,225.50 391.74,229.90 392.63,233.00 C393.53,236.10 395.45,237.67 396.01,238.60 Z" fill="#dcdcdc" stroke="none"/>
<path d="M375.00,238.60 C375.50,238.17 377.10,239.10 378.00,236.00 C378.90,232.90 379.80,226.00 380.40,220.00 C381.00,214.00 381.13,207.00 381.60,200.00 C382.07,193.00 382.73,183.73 383.20,178.00 C383.67,172.27 384.00,165.60 384.40,165.60 C384.80,165.60 385.07,172.27 385.60,178.00 C386.13,183.73 387.03,193.00 387.60,200.00 C388.17,207.00 388.52,214.50 389.00,220.00 C389.48,225.50 389.83,229.90 390.50,233.00 C391.17,236.10 392.58,237.67 393.00,238.60 Z" fill="#bebebe" stroke="#a2a2a2" stroke-width="0.8"/>
<path d="M328.00,238.60 C331.33,238.60 344.00,239.37 348.00,238.60 C352.00,237.83 350.53,235.90 352.00,234.00 C353.47,232.10 355.30,229.73 356.80,227.20 C358.30,224.67 359.97,219.92 361.00,218.80 C362.03,217.68 362.30,219.97 363.00,220.50 C363.70,221.03 364.53,223.42 365.20,222.00 C365.87,220.58 366.30,215.67 367.00,212.00 C367.70,208.33 368.65,204.00 369.40,200.00 C370.15,196.00 370.82,192.20 371.50,188.00 C372.18,183.80 372.82,178.75 373.50,174.80 C374.18,170.85 375.02,164.77 375.60,164.30 C376.18,163.83 376.43,166.88 377.00,172.00 C377.57,177.12 378.17,186.85 379.00,195.00 C379.83,203.15 381.00,215.37 382.00,220.90 C383.00,226.43 384.17,226.77 385.00,228.20 C385.83,229.63 386.28,229.32 387.00,229.50 C387.72,229.68 388.57,228.05 389.30,229.30 C390.03,230.55 390.62,235.45 391.40,237.00 C392.18,238.55 388.73,238.33 394.00,238.60 C399.27,238.87 418.17,238.60 423.00,238.60" fill="none" stroke="#333" stroke-width="0.9" stroke-linejoin="round"/>
<path d="M328.00,238.60 C330.70,238.60 340.10,240.15 344.20,238.60 C348.30,237.05 350.33,234.00 352.60,229.30 C354.87,224.60 356.48,215.28 357.80,210.40 C359.12,205.52 359.72,201.23 360.50,200.00 C361.28,198.77 361.90,201.97 362.50,203.00 C363.10,204.03 363.52,206.03 364.10,206.20 C364.68,206.37 365.35,205.03 366.00,204.00 C366.65,202.97 367.33,204.00 368.00,200.00 C368.67,196.00 369.08,185.67 370.00,180.00 C370.92,174.33 372.67,166.83 373.50,166.00 C374.33,165.17 374.42,169.33 375.00,175.00 C375.58,180.67 376.33,192.50 377.00,200.00 C377.67,207.50 378.25,214.50 379.00,220.00 C379.75,225.50 380.50,229.90 381.50,233.00 C382.50,236.10 378.08,237.67 385.00,238.60 C391.92,239.53 416.67,238.60 423.00,238.60" fill="none" stroke="#3ccc3c" stroke-width="0.9" stroke-linejoin="round"/>
<path d="M328.00,238.60 C330.70,238.60 340.10,240.15 344.20,238.60 C348.30,237.05 350.33,234.00 352.60,229.30 C354.87,224.60 356.40,216.62 357.80,210.40 C359.20,204.18 360.13,196.73 361.00,192.00 C361.87,187.27 362.42,184.00 363.00,182.00 C363.58,180.00 364.00,179.33 364.50,180.00 C365.00,180.67 365.50,185.67 366.00,186.00 C366.50,186.33 367.00,183.67 367.50,182.00 C368.00,180.33 368.42,177.67 369.00,176.00 C369.58,174.33 370.42,173.33 371.00,172.00 C371.58,170.67 371.90,169.28 372.50,168.00 C373.10,166.72 374.02,163.13 374.60,164.30 C375.18,165.47 375.30,169.05 376.00,175.00 C376.70,180.95 377.97,192.17 378.80,200.00 C379.63,207.83 380.30,216.67 381.00,222.00 C381.70,227.33 382.17,229.23 383.00,232.00 C383.83,234.77 379.33,237.50 386.00,238.60 C392.67,239.70 416.83,238.60 423.00,238.60" fill="none" stroke="#5a4ee0" stroke-width="0.9" stroke-linejoin="round"/>
<path d="M328.00,238.60 C330.70,238.60 340.10,240.15 344.20,238.60 C348.30,237.05 350.33,234.00 352.60,229.30 C354.87,224.60 356.23,217.38 357.80,210.40 C359.37,203.42 360.77,194.03 362.00,187.40 C363.23,180.77 364.32,174.10 365.20,170.60 C366.08,167.10 366.43,167.28 367.30,166.40 C368.17,165.52 369.53,164.60 370.40,165.30 C371.27,166.00 371.80,166.58 372.50,170.60 C373.20,174.62 373.90,182.77 374.60,189.40 C375.30,196.03 376.00,204.47 376.70,210.40 C377.40,216.33 377.92,220.98 378.80,225.00 C379.68,229.02 380.43,232.23 382.00,234.50 C383.57,236.77 381.37,237.92 388.20,238.60 C395.03,239.28 417.20,238.60 423.00,238.60" fill="none" stroke="#b31f42" stroke-width="1.4" stroke-linejoin="round"/>
<line x1="17" y1="242.2" x2="17" y2="163" stroke="#111" stroke-width="1.3" />
<path d="M14.2,164.2 L17,158.2 L19.8,164.2 Z" fill="#111"/>
<line x1="17" y1="242.2" x2="113" y2="242.2" stroke="#111" stroke-width="1.3" />
<path d="M112.6,239.4 L118.4,242.2 L112.6,245 Z" fill="#111"/>
<text x="58.6" y="253.3" font-size="8.4" font-weight="bold" text-anchor="middle" fill="#000" >CMXROS</text>
<text transform="translate(12.4,199.6) rotate(-90)" font-size="8" font-weight="bold" text-anchor="middle">Cell #</text>
<rect x="426.6" y="232.4" width="10.6" height="6.2" fill="#c4c4c4" stroke="#777" stroke-width="1" />
<text transform="translate(434.2,225.6) rotate(-47)" font-size="9.8" fill="#111">0 hour</text>
<rect x="441.3" y="232.4" width="10.6" height="6.2" fill="#000" stroke="#000" stroke-width="1" />
<text transform="translate(448.9,225.6) rotate(-47)" font-size="9.8" fill="#111">1 hour</text>
<rect x="456.0" y="232.4" width="10.6" height="6.2" fill="#22e022" stroke="#111" stroke-width="1" />
<text transform="translate(463.6,225.6) rotate(-47)" font-size="9.8" fill="#111">2 hours</text>
<rect x="470.70000000000005" y="232.4" width="10.6" height="6.2" fill="#2222ee" stroke="#111" stroke-width="1" />
<text transform="translate(478.3,225.6) rotate(-47)" font-size="9.8" fill="#111">4 hours</text>
<rect x="485.40000000000003" y="232.4" width="10.6" height="6.2" fill="#ee1111" stroke="#111" stroke-width="1" />
<text transform="translate(493.0,225.6) rotate(-47)" font-size="9.8" fill="#111">5 hours</text>
<defs><filter id="bl" x="-30%" y="-80%" width="160%" height="260%"><feGaussianBlur stdDeviation="0.8"/></filter><filter id="bl2" x="-30%" y="-80%" width="160%" height="260%"><feGaussianBlur stdDeviation="1.3"/></filter><linearGradient id="haze" x1="0" y1="0" x2="0" y2="1"><stop offset="0" stop-color="#fafafa"/><stop offset="0.45" stop-color="#d8d8d8"/><stop offset="1" stop-color="#6a6a6a"/></linearGradient><linearGradient id="haze6" x1="0" y1="0" x2="0" y2="1"><stop offset="0" stop-color="#d8d8d8"/><stop offset="0.5" stop-color="#aaa"/><stop offset="1" stop-color="#555"/></linearGradient></defs>
<rect x="288.1" y="327.3" width="128.09999999999997" height="16.7" fill="#fff" stroke="#111" stroke-width="1.3" />
<rect x="293.5" y="330.2" width="15.0" height="3.2" rx="1.5" fill="#e4e4e4" filter="url(#bl2)"/>
<rect x="313.5" y="330.2" width="16.0" height="3.2" rx="1.5" fill="#e4e4e4" filter="url(#bl2)"/>
<rect x="334" y="330.2" width="15" height="3.2" rx="1.5" fill="#e4e4e4" filter="url(#bl2)"/>
<rect x="293.6" y="335.00" width="15.20" height="4.4" rx="2" fill="#000" filter="url(#bl)"/>
<rect x="313.8" y="335.40" width="15.60" height="3.6" rx="2" fill="#5a5a5a" filter="url(#bl)"/>
<rect x="334.2" y="335.00" width="15.20" height="4.4" rx="2" fill="#000" filter="url(#bl)"/>
<rect x="354" y="335.70" width="16.00" height="3.0" rx="2" fill="#f2f2f2" filter="url(#bl)"/>
<rect x="374.2" y="335.40" width="14.40" height="3.6" rx="2" fill="#7a7a7a" filter="url(#bl)"/>
<rect x="394" y="335.50" width="17.00" height="3.4" rx="2" fill="#e4e4e4" filter="url(#bl)"/>
<rect x="288.1" y="357.6" width="128.09999999999997" height="21.8" fill="#fff" stroke="#111" stroke-width="1.3" />
<rect x="291.8" y="359.4" width="16.10" height="8" fill="url(#haze)" filter="url(#bl)"/>
<rect x="310.3" y="359.4" width="17.90" height="8" fill="url(#haze)" filter="url(#bl)"/>
<rect x="331.8" y="359.4" width="16.50" height="8" fill="url(#haze)" filter="url(#bl)"/>
<rect x="351.5" y="359.4" width="17.90" height="8" fill="url(#haze)" filter="url(#bl)"/>
<rect x="372.2" y="359.4" width="16.60" height="8" fill="url(#haze)" filter="url(#bl)"/>
<rect x="391.5" y="359.4" width="22.00" height="8" fill="url(#haze6)" filter="url(#bl)"/>
<rect x="291.8" y="365.6" width="16.10" height="9" rx="3.5" fill="#050505" filter="url(#bl)"/>
<rect x="310.3" y="365.6" width="17.90" height="9" rx="3.5" fill="#050505" filter="url(#bl)"/>
<rect x="331.8" y="365.6" width="16.50" height="9" rx="3.5" fill="#050505" filter="url(#bl)"/>
<rect x="351.5" y="365.6" width="17.90" height="9" rx="3.5" fill="#050505" filter="url(#bl)"/>
<rect x="372.2" y="365.6" width="16.60" height="9" rx="3.5" fill="#050505" filter="url(#bl)"/>
<rect x="391.5" y="365.6" width="22.00" height="9" rx="3.5" fill="#050505" filter="url(#bl)"/>
<text x="254.6" y="340.2" font-size="9" font-weight="normal" text-anchor="start" fill="#111" stroke="#111" stroke-width="0.3">FoxO3a</text>
<text x="256.5" y="371.3" font-size="8.5" font-weight="normal" text-anchor="start" fill="#111" stroke="#111" stroke-width="0.35">GAPDH</text>
<text transform="translate(304.0,320.9) rotate(-52)" font-size="8.5" font-weight="bold">HD1</text>
<text transform="translate(323.6,320.9) rotate(-52)" font-size="8.5" font-weight="bold">HD2</text>
<text transform="translate(343.9,320.9) rotate(-52)" font-size="8.5" font-weight="bold">HET1</text>
<text transform="translate(362.9,320.9) rotate(-52)" font-size="8.5" font-weight="bold">P1</text>
<text transform="translate(382.5,320.9) rotate(-52)" font-size="8.5" font-weight="bold">P2</text>
<text transform="translate(401.7,320.9) rotate(-52)" font-size="8.5" font-weight="bold">P3</text>
</svg>
</body></html>
